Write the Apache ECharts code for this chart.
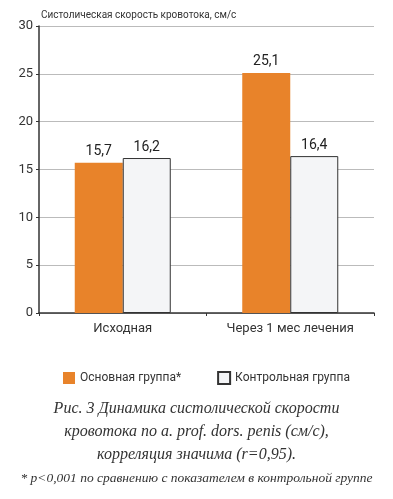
<!DOCTYPE html>
<html><head><meta charset="utf-8">
<script src="https://cdn.jsdelivr.net/npm/echarts@6/dist/echarts.min.js"></script>
<style>html,body{margin:0;padding:0;background:#fff}#c{width:393px;height:499px}</style>
</head><body><div id="c"></div>
<script>
const categories = ["Исходная", "Через 1 мес лечения"];
const seriesNames = ["Основная группа*", "Контрольная группа"];
const mainGroup = [15.7, 25.1];
const controlGroup = [16.2, 16.4];
const yTicks = [0, 5, 10, 15, 20, 25, 30];
const yAxisTitle = "Систолическая скорость кровотока, см/с";
const captionLines = ["Рис. 3 Динамика систолической скорости", "кровотока по a. prof. dors. penis (см/с),", "корреляция значима (r=0,95)."];
const footnote = "* p<0,001 по сравнению с показателем в контрольной группе";

const chart = echarts.init(document.getElementById('c'), null, {renderer: 'canvas'});
const fmt = p => String(p.value).replace('.', ',');
chart.setOption({
  animation: false,
  textStyle: {fontFamily: 'Roboto'},
  grid: {left: 39, right: 19, top: 26, height: 287},
  legend: {
    left: 58, top: 366, itemWidth: 12, itemHeight: 12, itemGap: 36, icon: 'rect',
    textStyle: {fontSize: 12, color: '#333', fontFamily: 'Roboto'},
    data: seriesNames
  },
  xAxis: {
    type: 'category', data: categories,
    axisLine: {lineStyle: {color: '#333', width: 1.5}},
    axisTick: {show: true, length: 3, lineStyle: {color: '#333'}},
    axisLabel: {fontSize: 13, color: '#333', margin: 9}
  },
  yAxis: {
    type: 'value', min: yTicks[0], max: yTicks[yTicks.length - 1], interval: 5,
    name: yAxisTitle, nameLocation: 'end', nameGap: 6,
    nameTextStyle: {align: 'left', fontSize: 10, color: '#333', padding: [0, 0, 0, 2]},
    axisLine: {show: true, lineStyle: {color: '#333', width: 1.5}},
    axisTick: {show: true, length: 3, lineStyle: {color: '#333'}},
    axisLabel: {fontSize: 13, color: '#333', margin: 6},
    splitLine: {lineStyle: {color: '#bbb', width: 1}}
  },
  series: [
    {name: seriesNames[0], type: 'bar', data: mainGroup, barWidth: 48, barGap: '0%',
     itemStyle: {color: '#E8832A'},
     label: {show: true, position: 'top', distance: 4, fontSize: 14, color: '#222', formatter: fmt}},
    {name: seriesNames[1], type: 'bar', data: controlGroup, barWidth: 48,
     itemStyle: {color: '#F4F5F7', borderColor: '#333', borderWidth: 1},
     label: {show: true, position: 'top', distance: 4, fontSize: 14, color: '#222', formatter: fmt}}
  ],
  graphic: [
    {type: 'text', left: 'center', top: 401, style: {text: captionLines[0], font: 'italic 16px "Liberation Serif"', fill: '#333'}},
    {type: 'text', left: 'center', top: 424, style: {text: captionLines[1], font: 'italic 16px "Liberation Serif"', fill: '#333'}},
    {type: 'text', left: 'center', top: 447, style: {text: captionLines[2], font: 'italic 16px "Liberation Serif"', fill: '#333'}},
    {type: 'text', left: 'center', top: 471, style: {text: footnote, font: 'italic 13.5px "Liberation Serif"', fill: '#333'}}
  ]
});
</script></body></html>
